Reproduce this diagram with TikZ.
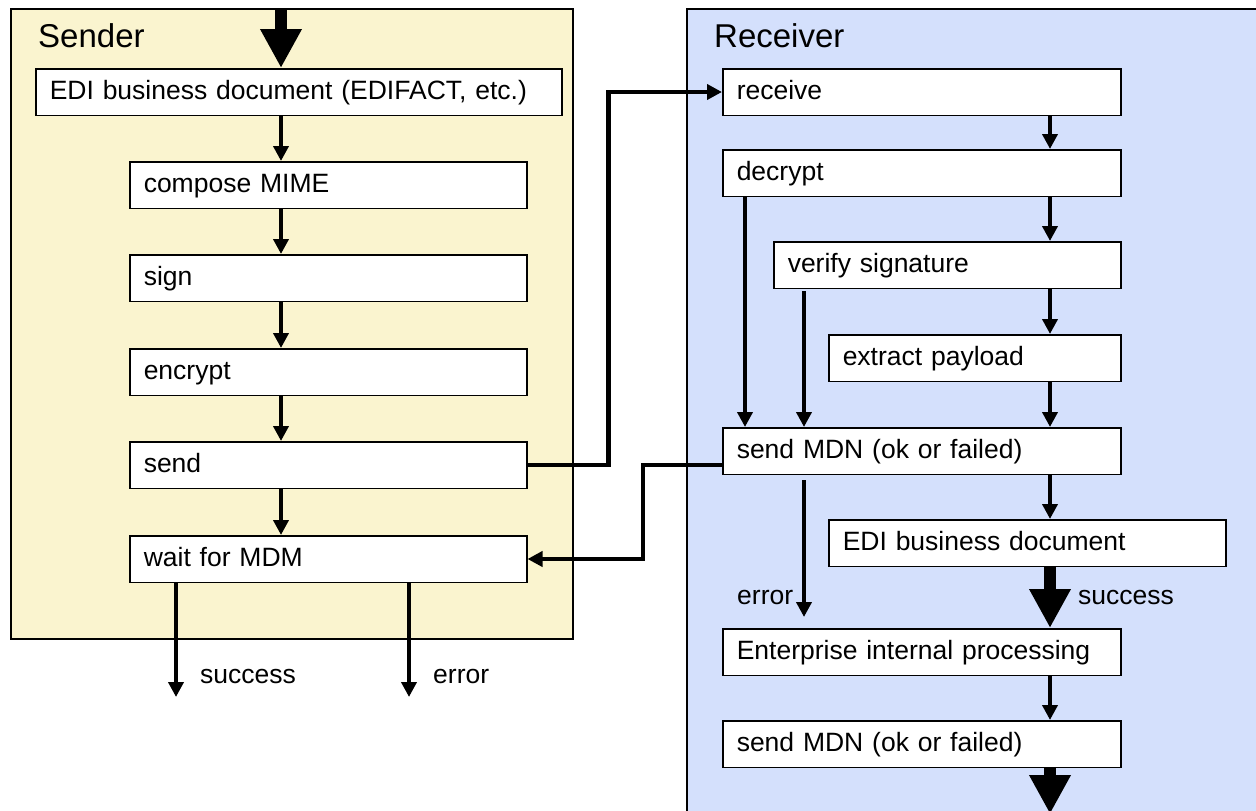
\documentclass[tikz,border=0pt]{standalone}
\usepackage{fontspec}
\setmainfont{Liberation Sans}
\usetikzlibrary{arrows.meta}
\definecolor{senderbg}{RGB}{250,244,207}
\definecolor{receiverbg}{RGB}{212,224,252}
\tikzstyle{stagebox}=[draw=black, line width=1.5pt, fill=white, anchor=north west, minimum height=46.5pt, inner xsep=14pt, inner ysep=0pt, text height=20pt, text depth=5pt, align=left, font=\fontsize{26.5}{30}\selectfont]
\tikzstyle{flow}=[line width=4.5pt, -{Triangle[length=15pt,width=15pt]}]
\tikzstyle{bigflow}=[line width=12.5pt, -{Triangle[length=39pt,width=39pt]}]
\tikzstyle{lane}=[draw=black, line width=2pt]
\tikzstyle{lanetitle}=[anchor=base west, inner sep=0pt, font=\fontsize{33}{36}\selectfont]
\tikzstyle{note}=[anchor=base west, inner sep=0pt, font=\fontsize{26.5}{30}\selectfont]
\newcommand{\stage}{\node[stagebox]}

\begin{document}
\begin{tikzpicture}[x=1pt,y=-1pt]
            \useasboundingbox (0,0) rectangle (1256,811);
            \clip (0,0) rectangle (1256,811);
            \draw[lane, fill=senderbg] (11,9) rectangle (573,639);
            \draw[lane, fill=receiverbg] (687,9) rectangle (1290,850);
            \node[lanetitle] (sendertitle) at (38,47) {Sender};
            \node[lanetitle] (receivertitle) at (714,47) {Receiver};
            % sender
            \stage (edi) at (35,68) [text width=498pt] {EDI business document (EDIFACT, etc.)};
            \stage (mime) at (129,161) [text width=369pt] {compose MIME};
            \stage (sign) at (129,254) [text width=369pt] {sign};
            \stage (encrypt) at (129,348) [text width=369pt] {encrypt};
            \stage (send) at (129,441) [text width=369pt] {send};
            \stage (wait) at (129,535) [text width=369pt] {wait for MDM};
            \coordinate (sx) at (281,10);
            \coordinate (ok) at (176,697);
            \coordinate (fail) at (409,697);
            \draw[bigflow] (sx) -- (sx |- edi.north);
            \draw[flow] (sx |- edi.south) -- (sx |- mime.north);
            \draw[flow] (sx |- mime.south) -- (sx |- sign.north);
            \draw[flow] (sx |- sign.south) -- (sx |- encrypt.north);
            \draw[flow] (sx |- encrypt.south) -- (sx |- send.north);
            \draw[flow] (sx |- send.south) -- (sx |- wait.north);
            \draw[flow] (wait.south -| ok) -- (ok);
            \draw[flow] (wait.south -| fail) -- (fail);
            \node[note] (oklabel) at (200,683) {success};
            \node[note] (faillabel) at (433,683) {error};
            % receiver
            \stage (recv) at (722,68) [text width=370pt] {receive};
            \stage (decrypt) at (722,149) [text width=370pt] {decrypt};
            \stage (verify) at (773,241) [text width=319pt] {verify signature};
            \stage (extract) at (828,334) [text width=264pt] {extract payload};
            \stage (mdn) at (722,427) [text width=370pt] {send MDN (ok or failed)};
            \stage (doc) at (828,519) [text width=369pt] {EDI business document};
            \stage (proc) at (722,628) [text width=370pt] {Enterprise internal processing};
            \stage (mdnend) at (722,720) [text width=370pt] {send MDN (ok or failed)};
            \coordinate (rx) at (1050,0);
            \coordinate (dx) at (745,0);
            \coordinate (vx) at (804,0);
            \coordinate (err) at (804,617);
            \coordinate (out) at (1050,814);
            \draw[flow] (rx |- recv.south) -- (rx |- decrypt.north);
            \draw[flow] (rx |- decrypt.south) -- (rx |- verify.north);
            \draw[flow] (rx |- verify.south) -- (rx |- extract.north);
            \draw[flow] (rx |- extract.south) -- (rx |- mdn.north);
            \draw[flow] (rx |- mdn.south) -- (rx |- doc.north);
            \draw[bigflow] (rx |- doc.south) -- (rx |- proc.north);
            \draw[flow] (rx |- proc.south) -- (rx |- mdnend.north);
            \draw[bigflow] (rx |- mdnend.south) -- (out);
            \draw[flow] (dx |- decrypt.south) -- (dx |- mdn.north);
            \draw[flow, shorten <=2pt] (vx |- verify.south) -- (vx |- mdn.north);
            \draw[flow, shorten <=5pt] (mdn.south -| err) -- (err);
            \node[note] (errlabel) at (737,604) {error};
            \node[note] (donelabel) at (1078,604) {success};
            % between the lanes
            \draw[flow] (send.east) -- ++(81,0) |- (recv.west);
            \draw[flow] (mdn.west |- send.east) -- ++(-79,0) |- (wait.east);
        \end{tikzpicture}
\end{document}
